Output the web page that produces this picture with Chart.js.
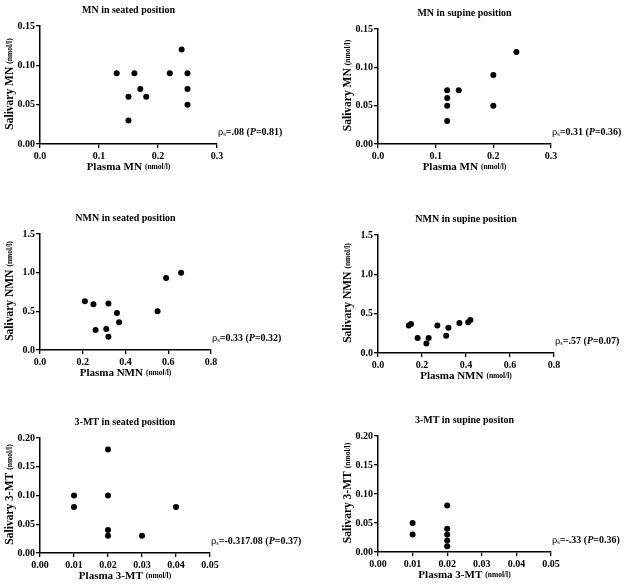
<!DOCTYPE html>
<html>
<head>
<meta charset="utf-8">
<script src="https://cdn.jsdelivr.net/npm/chart.js@4/dist/chart.umd.min.js"></script>
<style>
html,body{margin:0;padding:0;background:#fff;}
body{width:629px;height:586px;position:relative;overflow:hidden;}
.p{position:absolute;}
</style>
</head>
<body>
<script>
// ---- Data ----
const mnSeatedX = [0.13, 0.15, 0.15, 0.16, 0.17, 0.18, 0.22, 0.24, 0.25, 0.25, 0.25];
const mnSeatedY = [0.09, 0.06, 0.03, 0.09, 0.07, 0.06, 0.09, 0.12, 0.09, 0.07, 0.05];
const mnSupineX = [0.12, 0.12, 0.12, 0.12, 0.14, 0.20, 0.20, 0.24];
const mnSupineY = [0.07, 0.06, 0.05, 0.03, 0.07, 0.09, 0.05, 0.12];
const nmnSeatedX = [0.21, 0.25, 0.26, 0.32, 0.31, 0.32, 0.36, 0.37, 0.55, 0.59, 0.66];
const nmnSeatedY = [0.63, 0.59, 0.26, 0.60, 0.27, 0.17, 0.48, 0.36, 0.50, 0.93, 1.00];
const nmnSupineX = [0.14, 0.15, 0.18, 0.22, 0.23, 0.27, 0.31, 0.32, 0.37, 0.41, 0.42];
const nmnSupineY = [0.35, 0.37, 0.19, 0.12, 0.19, 0.35, 0.22, 0.32, 0.38, 0.39, 0.42];
const mtSeatedX = [0.01, 0.01, 0.02, 0.02, 0.02, 0.02, 0.03, 0.04];
const mtSeatedY = [0.10, 0.08, 0.18, 0.10, 0.04, 0.03, 0.03, 0.08];
const mtSupineX = [0.01, 0.01, 0.02, 0.02, 0.02, 0.02, 0.02];
const mtSupineY = [0.05, 0.03, 0.08, 0.04, 0.03, 0.02, 0.01];

const mnXTicks = ['0.0', '0.1', '0.2', '0.3'];
const mnYTicks = ['0.00', '0.05', '0.10', '0.15'];
const nmnXTicks = ['0.0', '0.2', '0.4', '0.6', '0.8'];
const nmnYTicks = ['0.0', '0.5', '1.0', '1.5'];
const mtXTicks = ['0.00', '0.01', '0.02', '0.03', '0.04', '0.05'];
const mtYTicks = ['0.00', '0.05', '0.10', '0.15', '0.20'];

const titles = ['MN in seated position', 'MN in supine position', 'NMN in seated position',
                'NMN in supine position', '3-MT in seated position', '3-MT in supine positon'];
const xTitles = [['Plasma MN', '(nmol/l)'], ['Plasma MN', '(nmol/l)'], ['Plasma NMN', '(nmol/l)'],
                 ['Plasma NMN', '(nmol/l)'], ['Plasma 3-MT', '(nmol/l)'], ['Plasma 3-MT', '(nmol/l)']];
const yTitles = [['Salivary MN', '(nmol/l)'], ['Salivary MN', '(nmol/l)'], ['Salivary NMN', '(nmol/l)'],
                 ['Salivary NMN', '(nmol/l)'], ['Salivary 3-MT', '(nmol/l)'], ['Salivary 3-MT', '(nmol/l)']];
const rhoText = ['=.08 (', '=0.31 (', '=0.33 (', '=.57 (', '=-0.317.08 (', '=-.33 ('];
const pText = ['=0.81)', '=0.36)', '=0.32)', '=0.07)', '=0.37)', '=0.36)'];

// ---- Layout (chart areas in page pixels) ----
const areas = [
  {l: 40, r: 217, t: 26, b: 144},
  {l: 378, r: 551, t: 29, b: 144},
  {l: 40, r: 211, t: 234, b: 350},
  {l: 378, r: 554, t: 235, b: 353},
  {l: 40, r: 210, t: 438, b: 553},
  {l: 378, r: 551, t: 436, b: 552}
];
const panels = [
  {x: mnSeatedX, y: mnSeatedY, xt: mnXTicks, yt: mnYTicks, xmax: 0.3, xs: 0.1, ymax: 0.15, ys: 0.05},
  {x: mnSupineX, y: mnSupineY, xt: mnXTicks, yt: mnYTicks, xmax: 0.3, xs: 0.1, ymax: 0.15, ys: 0.05},
  {x: nmnSeatedX, y: nmnSeatedY, xt: nmnXTicks, yt: nmnYTicks, xmax: 0.8, xs: 0.2, ymax: 1.5, ys: 0.5},
  {x: nmnSupineX, y: nmnSupineY, xt: nmnXTicks, yt: nmnYTicks, xmax: 0.8, xs: 0.2, ymax: 1.5, ys: 0.5},
  {x: mtSeatedX, y: mtSeatedY, xt: mtXTicks, yt: mtYTicks, xmax: 0.05, xs: 0.01, ymax: 0.20, ys: 0.05},
  {x: mtSupineX, y: mtSupineY, xt: mtXTicks, yt: mtYTicks, xmax: 0.05, xs: 0.01, ymax: 0.20, ys: 0.05}
];

const SERIF = "'Liberation Serif', 'Times New Roman', serif";
const PADL = 40, PADT = 30, PADR = 92, PADB = 42, XH = 17;

function drawMixed(ctx, parts, x, y) {
  let cx = x;
  for (const p of parts) {
    ctx.font = p.f;
    ctx.fillText(p.t, cx, y + (p.dy || 0));
    cx += ctx.measureText(p.t).width + (p.gap || 0);
  }
  return cx - x;
}
function measureMixed(ctx, parts) {
  let w = 0;
  for (const p of parts) { ctx.font = p.f; w += ctx.measureText(p.t).width + (p.gap || 0); }
  return w;
}

panels.forEach((pn, i) => {
  const a = areas[i];
  const W = (a.r - a.l) + PADL + PADR;
  const H = (a.b - a.t) + PADT + PADB;
  const div = document.createElement('div');
  div.className = 'p';
  div.style.left = (a.l - PADL) + 'px';
  div.style.top = (a.t - PADT) + 'px';
  div.style.width = W + 'px';
  div.style.height = H + 'px';
  const cv = document.createElement('canvas');
  div.appendChild(cv);
  document.body.appendChild(div);

  const pts = pn.x.map((v, k) => ({x: v, y: pn.y[k]}));

  const deco = {
    id: 'deco' + i,
    afterDraw(chart) {
      const ctx = chart.ctx;
      const ca = chart.chartArea;
      ctx.save();
      ctx.fillStyle = '#000';
      // Title
      ctx.font = 'bold 10px ' + SERIF;
      ctx.textAlign = 'center';
      ctx.textBaseline = 'middle';
      ctx.fillText(titles[i], (ca.left + ca.right) / 2, ca.top - 16);
      // X title
      ctx.textAlign = 'left';
      const xp = [{t: xTitles[i][0], f: 'bold 11px ' + SERIF, gap: 3}, {t: xTitles[i][1], f: 'bold 7.5px ' + SERIF}];
      const xw = measureMixed(ctx, xp);
      drawMixed(ctx, xp, (ca.left + ca.right) / 2 - xw / 2, ca.bottom + 23);
      // Y title
      const yp = [{t: yTitles[i][0], f: 'bold 11.5px ' + SERIF, gap: 3}, {t: yTitles[i][1], f: 'bold 7.5px ' + SERIF}];
      const yw = measureMixed(ctx, yp);
      ctx.save();
      ctx.translate(ca.left - 30, (ca.top + ca.bottom) / 2 - 1);
      ctx.rotate(-Math.PI / 2);
      drawMixed(ctx, yp, -yw / 2, 0);
      ctx.restore();
      // Annotation
      const ap = [
        {t: 'ρ', f: '10.5px ' + SERIF},
        {t: 's', f: '6.5px ' + SERIF, dy: 2},
        {t: rhoText[i], f: 'bold 10px ' + SERIF},
        {t: 'P', f: 'italic bold 10px ' + SERIF},
        {t: pText[i], f: 'bold 10px ' + SERIF}
      ];
      drawMixed(ctx, ap, ca.right + 1, ca.bottom - 12);
      ctx.restore();
    }
  };

  new Chart(cv, {
    type: 'scatter',
    data: {datasets: [{data: pts, backgroundColor: '#000', borderColor: '#000',
      pointRadius: 3, pointHoverRadius: 3, pointBorderWidth: 0}]},
    options: {
      responsive: true,
      maintainAspectRatio: false,
      animation: false,
      events: [],
      layout: {padding: {left: 0, top: PADT, right: PADR, bottom: PADB - XH}},
      plugins: {legend: {display: false}, tooltip: {enabled: false}, title: {display: false}},
      scales: {
        x: {
          type: 'linear', min: 0, max: pn.xmax,
          afterFit(s) { s.height = XH; },
          afterBuildTicks(s) { s.ticks = pn.xt.map((_, k) => ({value: k * pn.xs})); },
          ticks: {callback: (v, k) => pn.xt[k], color: '#000', padding: 2, maxRotation: 0, autoSkip: false,
                  font: {family: SERIF, size: 10, weight: 'bold'}},
          grid: {display: true, drawOnChartArea: false, drawTicks: true, tickLength: 4, color: '#000', lineWidth: 1.3},
          border: {display: true, color: '#000', width: 1.5}
        },
        y: {
          type: 'linear', min: 0, max: pn.ymax,
          afterFit(s) { s.width = PADL; },
          afterBuildTicks(s) { s.ticks = pn.yt.map((_, k) => ({value: k * pn.ys})); },
          ticks: {callback: (v, k) => pn.yt[k], color: '#000', padding: 1, autoSkip: false,
                  font: {family: SERIF, size: 10, weight: 'bold'}},
          grid: {display: true, drawOnChartArea: false, drawTicks: true, tickLength: 4, color: '#000', lineWidth: 1.3},
          border: {display: true, color: '#000', width: 1.5}
        }
      }
    },
    plugins: [deco]
  });
});
</script>
</body>
</html>
